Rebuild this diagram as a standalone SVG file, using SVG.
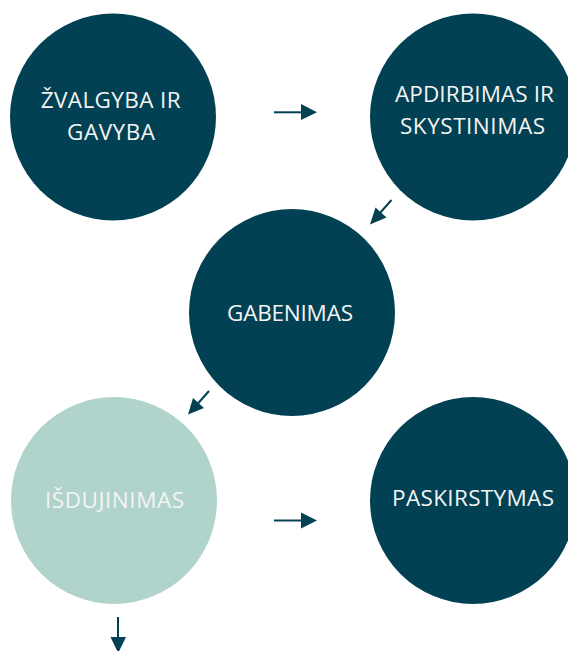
<svg xmlns="http://www.w3.org/2000/svg" width="568" height="651" viewBox="0 0 568 651">
<defs>
<style>
.dark{fill:#024153}
.light{fill:#b0d3cb}
.t{font-family:"Open Sans","Noto Sans","DejaVu Sans",sans-serif;font-size:22.5px;fill:#f4f4f4;text-anchor:middle}
.c{stroke:#024153;stroke-width:2;fill:none}
.h{fill:#024153}
</style>
</defs>
<rect width="568" height="651" fill="#ffffff"/>
<g id="n1"><ellipse class="dark" cx="113" cy="117" rx="103" ry="103.5"/><text class="t" x="110.7" y="107.7" textLength="140" lengthAdjust="spacing">ŽVALGYBA IR</text><text class="t" x="111" y="139.8" textLength="88" lengthAdjust="spacing">GAVYBA</text></g>
<g id="n2"><ellipse class="dark" cx="473" cy="117" rx="103" ry="103.5"/><text class="t" x="474.5" y="101.6" textLength="159" lengthAdjust="spacing">APDIRBIMAS IR</text><text class="t" x="472.5" y="134" textLength="145" lengthAdjust="spacing">SKYSTINIMAS</text></g>
<g id="n3"><ellipse class="dark" cx="292" cy="312.5" rx="103" ry="103.5"/><text class="t" x="290" y="320.5" textLength="126" lengthAdjust="spacing">GABENIMAS</text></g>
<g id="n4"><ellipse class="light" cx="114" cy="500.5" rx="103" ry="103.5"/><text class="t" x="114.5" y="507.5" textLength="139" lengthAdjust="spacing">IŠDUJINIMAS</text></g>
<g id="n5"><ellipse class="dark" cx="473" cy="500.5" rx="103" ry="103.5"/><text class="t" x="473" y="506" textLength="162" lengthAdjust="spacing">PASKIRSTYMAS</text></g>
<g id="connectors">
<line class="c" x1="274" y1="112.3" x2="302" y2="112.3"/><polygon class="h" points="301,104 317,112.3 301,120"/>
<line class="c" x1="391.5" y1="200" x2="380" y2="213"/><polygon class="h" points="370,224.5 375.5,207.5 386.5,217.5"/>
<line class="c" x1="209" y1="391" x2="197.5" y2="404"/><polygon class="h" points="188,414.5 193,398 204,408"/>
<line class="c" x1="274" y1="520.5" x2="302" y2="520.5"/><polygon class="h" points="301,512.5 317,520.5 301,528.5"/>
<line class="c" x1="118" y1="617" x2="118" y2="638"/><polygon class="h" points="110.5,637 126,637 118.2,653"/>
</g>
</svg>
